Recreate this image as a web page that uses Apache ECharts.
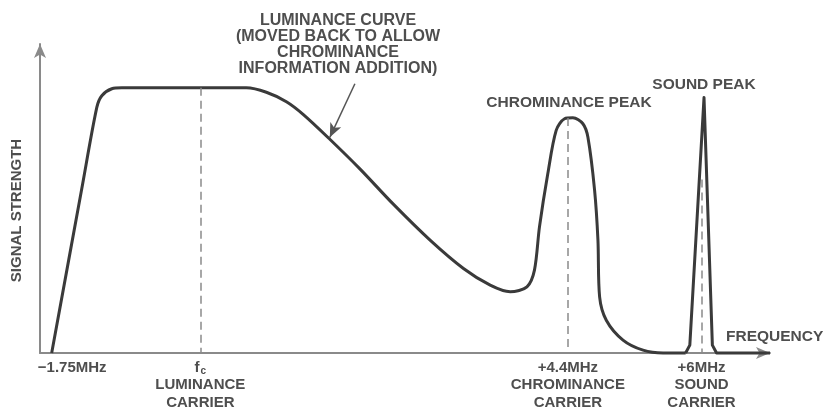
<!DOCTYPE html>
<html><head><meta charset="utf-8">
<script src="https://cdn.jsdelivr.net/npm/echarts@6/dist/echarts.min.js"></script>
<style>html,body{margin:0;padding:0;background:#fff}#c{width:840px;height:407px}</style>
</head><body><div id="c"></div>
<script>
// Luminance + chrominance response (frequency in MHz relative to luminance carrier, strength in arbitrary units)
const freqMHz = [-1.78, -1.42, -1.24, -1.18, -1.06, -0.94, 0.55, 0.79, 1.03, 1.23, 1.55, 1.91, 2.31, 2.75, 3.15, 3.47, 3.71, 3.91, 4.00, 4.06, 4.16, 4.26, 4.36, 4.46, 4.58, 4.64, 4.72, 4.76, 4.78, 4.86, 5.06, 5.30, 5.54, 5.81];
const signal  = [0, 52.1, 77.9, 81.6, 83.8, 84.1, 84.1, 82.7, 79.7, 75.7, 67.8, 58.4, 47.2, 35.8, 26.8, 21.5, 19.4, 21.0, 26.3, 40.0, 56.9, 70.6, 74.3, 74.6, 72.7, 68.4, 51.6, 35.8, 17.8, 10.4, 4.1, 0.9, 0, 0];
// Sound peak
const soundFreqMHz = [5.81, 5.86, 6.03, 6.13, 6.18, 6.82];
const soundSignal  = [0, 2.5, 81, 2.5, 0, 0];
// Axis tick labels
const tickValues = [-1.75, 0, 4.4, 6];
const tickLabels = ['−1.75MHz', '{f|f}{sub|c}\nLUMINANCE\nCARRIER', '+4.4MHz\nCHROMINANCE\nCARRIER', '+6MHz\nSOUND\nCARRIER'];
// Carrier dashed lines
const carrierFreqs = [0, 4.4, 6];
const carrierTops  = [84.1, 74.5, 55];
// Annotation arrow (from text to curve)
const arrowFrom = [1.85, 85.4];
const arrowTo   = [1.55, 68.4];

const FONT = 'Liberation Sans';
const TXT = '#4e4e4e';
const chart = echarts.init(document.getElementById('c'), null, {renderer: 'canvas'});

const carrierLines = carrierFreqs.map((f, i) => [
  {coord: [f, carrierTops[i]], symbol: 'none'},
  {coord: [f, 0], symbol: 'none'}
]);
const arrowLine = [
  {coord: arrowFrom, symbol: 'none', lineStyle: {color: '#555', width: 1.5, type: 'solid'}},
  {coord: arrowTo, symbol: 'arrow', symbolSize: [9, 14]}
];

chart.setOption({
  backgroundColor: '#fff',
  animation: false,
  grid: {left: 40, right: 70, top: 44, bottom: 54, containLabel: false, outerBoundsMode: 'none'},
  xAxis: {
    type: 'value', min: -1.92, max: 6.82,
    splitLine: {show: false},
    axisTick: {show: false},
    axisLine: {show: true, onZero: false, lineStyle: {color: '#8a8a8a', width: 2}, symbol: ['none', 'arrow'], symbolSize: [9, 14]},
    name: 'FREQUENCY', nameLocation: 'end', nameGap: -44,
    nameTextStyle: {fontFamily: FONT, fontWeight: 'bold', fontSize: 15.5, color: TXT, align: 'left', verticalAlign: 'bottom', padding: [0, 0, 8, 0]},
    axisLabel: {
      customValues: tickValues,
      margin: 6,
      fontFamily: FONT, fontWeight: 'bold', fontSize: 15, lineHeight: 17.5, color: TXT,
      formatter: function (v) {
        let best = 0;
        tickValues.forEach((t, i) => { if (Math.abs(t - v) < Math.abs(tickValues[best] - v)) best = i; });
        return best === 0 ? '{shift|' + tickLabels[0] + '}' : tickLabels[best];
      },
      rich: {
        shift: {fontFamily: FONT, fontWeight: 'bold', fontSize: 15, color: TXT, padding: [0, 0, 0, 36]},
        f: {fontFamily: FONT, fontWeight: 'bold', fontSize: 15, color: TXT},
        sub: {fontFamily: FONT, fontWeight: 'bold', fontSize: 10, color: TXT, verticalAlign: 'bottom', padding: [6, 0, 0, 1]}
      }
    }
  },
  yAxis: {
    type: 'value', min: 0, max: 98,
    splitLine: {show: false},
    axisTick: {show: false},
    axisLabel: {show: false},
    axisLine: {show: true, onZero: false, lineStyle: {color: '#8a8a8a', width: 2}, symbol: ['none', 'arrow'], symbolSize: [9, 14]},
    name: 'SIGNAL STRENGTH', nameLocation: 'middle', nameRotate: 90, nameGap: 16,
    nameTextStyle: {fontFamily: FONT, fontWeight: 'bold', fontSize: 15, color: TXT, padding: [0, 24, 0, 0]}
  },
  series: [
    {
      type: 'line', data: freqMHz.map((f, i) => [f, signal[i]]),
      smooth: 0.3, showSymbol: false, clip: false,
      lineStyle: {color: '#3a3a3a', width: 3},
      markLine: {
        silent: true, symbol: 'none',
        label: {show: false},
        lineStyle: {color: '#8a8a8a', width: 1.5, type: [8, 5]},
        data: carrierLines.concat([arrowLine])
      }
    },
    {
      type: 'line', data: soundFreqMHz.map((f, i) => [f, soundSignal[i]]),
      smooth: false, showSymbol: false, clip: false,
      lineStyle: {color: '#3a3a3a', width: 3, join: 'round'}
    }
  ],
  graphic: [
    {type: 'text', x: 338, y: 12, style: {text: 'LUMINANCE CURVE\n(MOVED BACK TO ALLOW\nCHROMINANCE\nINFORMATION ADDITION)', align: 'center', verticalAlign: 'top', fill: TXT, font: 'bold 16px ' + FONT, lineHeight: 16.3}},
    {type: 'text', x: 569, y: 103, style: {text: 'CHROMINANCE PEAK', align: 'center', verticalAlign: 'middle', fill: TXT, font: 'bold 15.5px ' + FONT}},
    {type: 'text', x: 704, y: 85, style: {text: 'SOUND PEAK', align: 'center', verticalAlign: 'middle', fill: TXT, font: 'bold 15.5px ' + FONT}}
  ]
});
</script></body></html>
